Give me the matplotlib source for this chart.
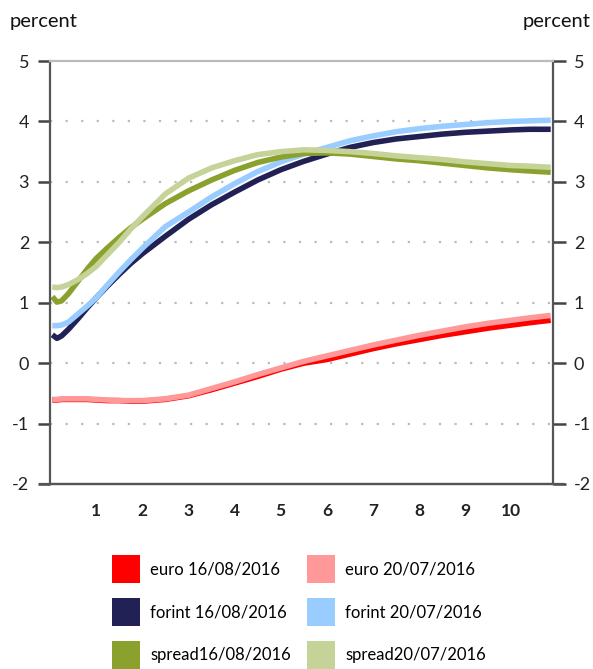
import numpy as np
import matplotlib.pyplot as plt
from matplotlib.patches import Patch
from matplotlib.lines import Line2D

plt.rcParams['font.family'] = ['Lato', 'DejaVu Sans']
plt.rcParams['axes.unicode_minus'] = False

# maturity (years)
x = [0.05, 0.15, 0.25, 0.4, 0.6, 0.8, 1.0, 1.25, 1.5, 1.75, 2, 2.5, 3, 3.5, 4, 4.5,
     5, 5.5, 6, 6.5, 7, 7.5, 8, 8.5, 9, 9.5, 10, 10.4, 10.85]

euro_0816 = [-0.61, -0.61, -0.6, -0.6, -0.6, -0.6, -0.61, -0.62, -0.62, -0.63, -0.63, -0.6, -0.54,
             -0.44, -0.33, -0.22, -0.1, 0.0, 0.06, 0.15, 0.24, 0.32, 0.39, 0.46, 0.52, 0.58, 0.63,
             0.67, 0.71]
euro_0720 = [-0.6, -0.6, -0.59, -0.59, -0.59, -0.59, -0.6, -0.61, -0.62, -0.62, -0.62, -0.59, -0.53,
             -0.42, -0.31, -0.19, -0.08, 0.03, 0.12, 0.21, 0.3, 0.38, 0.46, 0.53, 0.6, 0.66, 0.71,
             0.75, 0.79]
forint_0816 = [0.47, 0.41, 0.45, 0.56, 0.73, 0.91, 1.08, 1.28, 1.47, 1.65, 1.81, 2.1, 2.38, 2.62,
               2.83, 3.03, 3.2, 3.34, 3.46, 3.57, 3.65, 3.71, 3.75, 3.79, 3.82, 3.84, 3.86, 3.87, 3.87]
forint_0720 = [0.62, 0.62, 0.63, 0.68, 0.81, 0.94, 1.08, 1.3, 1.51, 1.71, 1.9, 2.26, 2.5, 2.75,
               2.97, 3.17, 3.33, 3.46, 3.57, 3.68, 3.76, 3.83, 3.88, 3.92, 3.95, 3.98, 4.0, 4.01, 4.02]
spread_0816 = [1.1, 1.01, 1.03, 1.15, 1.35, 1.55, 1.73, 1.91, 2.08, 2.24, 2.38, 2.64, 2.85, 3.03,
               3.19, 3.32, 3.41, 3.47, 3.48, 3.46, 3.42, 3.38, 3.35, 3.31, 3.27, 3.23, 3.2, 3.18, 3.16]
spread_0720 = [1.26, 1.25, 1.26, 1.3, 1.38, 1.48, 1.6, 1.8, 2.0, 2.22, 2.42, 2.8, 3.06, 3.23,
               3.35, 3.45, 3.5, 3.53, 3.52, 3.5, 3.47, 3.43, 3.4, 3.37, 3.33, 3.3, 3.27, 3.26, 3.24]

xticks = [1, 2, 3, 4, 5, 6, 7, 8, 9, 10]
yticks = [-2, -1, 0, 1, 2, 3, 4, 5]

fig = plt.figure(figsize=(5.93, 6.69), dpi=100)
ax = fig.add_axes([50/593, 1-484/669, 503/593, 423/669])

lw = 4.0
ax.plot(x, euro_0816, color='#ff0000', lw=lw, label='euro 16/08/2016', solid_capstyle='butt')
ax.plot(x, euro_0720, color='#ff9999', lw=lw, label='euro 20/07/2016', solid_capstyle='butt')
ax.plot(x, forint_0816, color='#222156', lw=lw, label='forint 16/08/2016', solid_capstyle='butt')
ax.plot(x, forint_0720, color='#99ccff', lw=lw, label='forint 20/07/2016', solid_capstyle='butt')
ax.plot(x, spread_0816, color='#8ba12d', lw=lw, label='spread16/08/2016', solid_capstyle='butt')
ax.plot(x, spread_0720, color='#c5d298', lw=lw, label='spread20/07/2016', solid_capstyle='butt')

ax.set_xlim(0, 10.9)
ax.set_ylim(-2, 5)
ax.set_xticks(xticks)
ax.set_xticklabels([str(t) for t in xticks], fontweight='bold', fontsize=12.5)
ax.set_yticks(yticks)
ax.tick_params(axis='x', length=0, pad=14, colors='#222222')
ax.tick_params(axis='y', length=9, width=1.8, color='#444444', labelsize=13,
               labelcolor='#222222', left=True, right=True, labelleft=True, labelright=True, pad=6)

for y in yticks[1:-1]:
    ax.axhline(y, color='#bbbbbb', lw=1.6, ls=(0, (1, 6)), zorder=0)

for s in ['left', 'right', 'bottom']:
    ax.spines[s].set_color('#555555')
    ax.spines[s].set_linewidth(1.6)
ax.spines['top'].set_color('#bbbbbb')
ax.spines['top'].set_linewidth(1.6)

# bottom axis line extends past the frame like the y ticks
ax.add_line(Line2D([-0.02, 1.02], [0, 0], transform=ax.transAxes, color='#555555',
                   lw=1.6, clip_on=False))

fig.text(10/593, 1-22/669, 'percent', fontsize=14.5, va='center', ha='left', color='#111111')
fig.text(591/593, 1-22/669, 'percent', fontsize=14.5, va='center', ha='right', color='#111111')

colors = ['#ff0000', '#222156', '#8ba12d', '#ff9999', '#99ccff', '#c5d298']
labels = ['euro 16/08/2016', 'forint 16/08/2016', 'spread16/08/2016',
          'euro 20/07/2016', 'forint 20/07/2016', 'spread20/07/2016']
handles = [Patch(facecolor=c, edgecolor='none') for c in colors]
fig.legend(handles, labels, ncol=2, loc='upper left', bbox_to_anchor=(112/593, 1-555/669),
           frameon=False, fontsize=12, handlelength=1.68, handleheight=2.2, handletextpad=0.6,
           columnspacing=1.0, labelspacing=0.9, borderpad=0, borderaxespad=0)

fig.savefig('out.png', dpi=100)
